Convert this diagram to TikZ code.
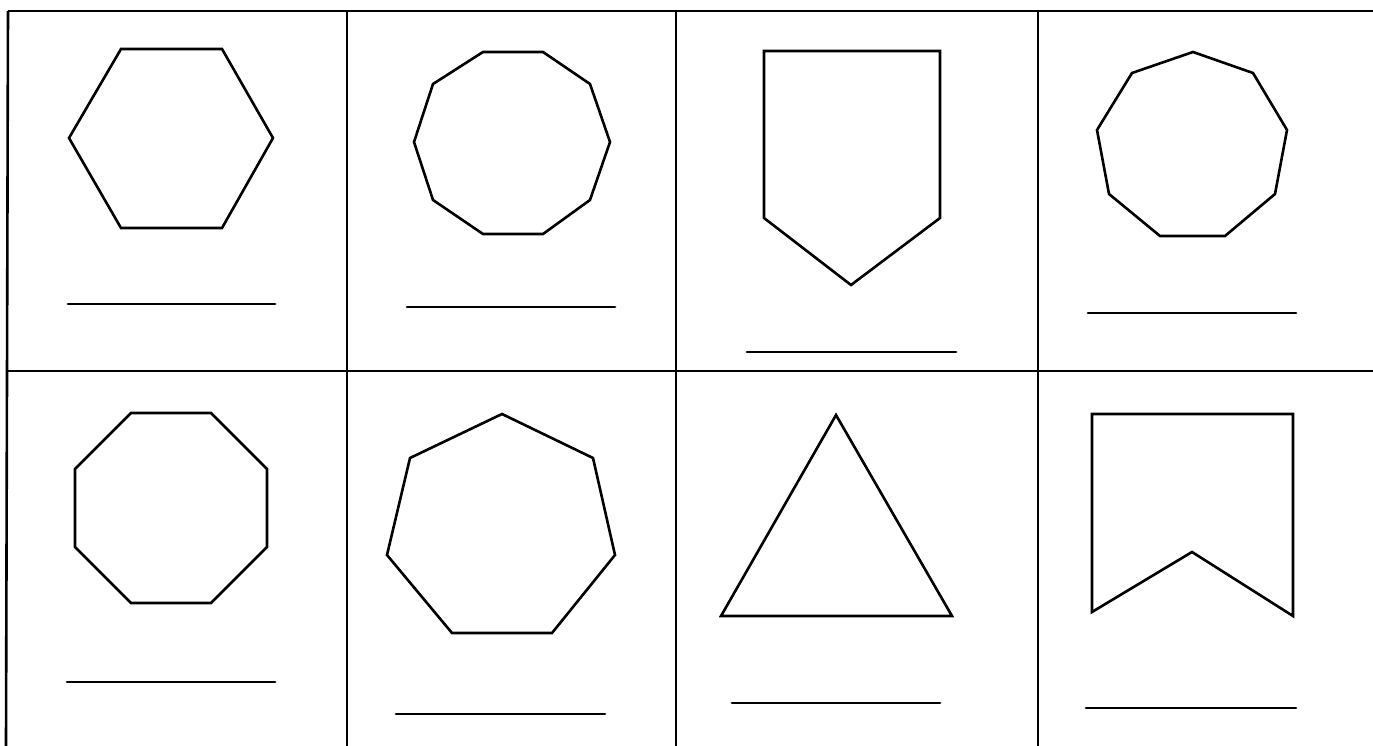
\documentclass[tikz,border=0pt]{standalone}
\usepackage{tikz}

\begin{document}
\begin{tikzpicture}[x=1pt, y=-1pt, grid line/.style={draw, line width=2.6pt}, outline/.style={draw, line width=2.6pt, line join=miter}, answer/.style={draw, line width=2.8pt, line cap=round}]

    \useasboundingbox (0, 0) rectangle (1373, 746);

    % grid
    \path[grid line] (8, 11) -- (1373, 11);
    \path[grid line] (8, 371) -- (1373, 371);
    \path[grid line] (8, 11) -- (6, 746);
    \path[grid line] (347, 11) -- (347, 746);
    \path[grid line] (676, 11) -- (676, 746);
    \path[grid line] (1038, 11) -- (1038, 746);

    % top row
    \path[outline] (121, 49) -- (222, 49) -- (273, 138) -- (222, 228) -- (121, 228) -- (69, 138) -- cycle;
    \path[outline] (483, 52) -- (543, 52) -- (590, 84) -- (610, 142) -- (590, 200) -- (543, 234) -- (483, 234) -- (433, 200) -- (414, 142) -- (433, 84) -- cycle;
    \path[outline] (764, 51) -- (940, 51) -- (940, 218) -- (851, 285) -- (764, 218) -- cycle;
    \path[outline] (1193, 52) -- (1253, 73) -- (1287, 130) -- (1275, 194) -- (1225, 236) -- (1160, 236) -- (1109, 194) -- (1097, 130) -- (1132, 73) -- cycle;

    % bottom row
    \path[outline] (131, 413) -- (211, 413) -- (267, 469) -- (267, 547) -- (211, 603) -- (131, 603) -- (75, 547) -- (75, 469) -- cycle;
    \path[outline] (502, 414) -- (593, 458) -- (615, 555) -- (552, 633) -- (452, 633) -- (387, 555) -- (410, 458) -- cycle;
    \path[outline] (836, 415) -- (952, 616) -- (721, 616) -- cycle;
    \path[outline] (1092, 414) -- (1293, 414) -- (1293, 616) -- (1192, 552) -- (1092, 612) -- cycle;

    % answer lines
    \path[answer] (68, 304) -- (275, 304);
    \path[answer] (407, 307) -- (615, 307);
    \path[answer] (747, 352) -- (956, 352);
    \path[answer] (1088, 313) -- (1296, 313);
    \path[answer] (67, 682) -- (275, 682);
    \path[answer] (396, 714) -- (605, 714);
    \path[answer] (732, 703) -- (940, 703);
    \path[answer] (1086, 708) -- (1296, 708);

\end{tikzpicture}
\end{document}
